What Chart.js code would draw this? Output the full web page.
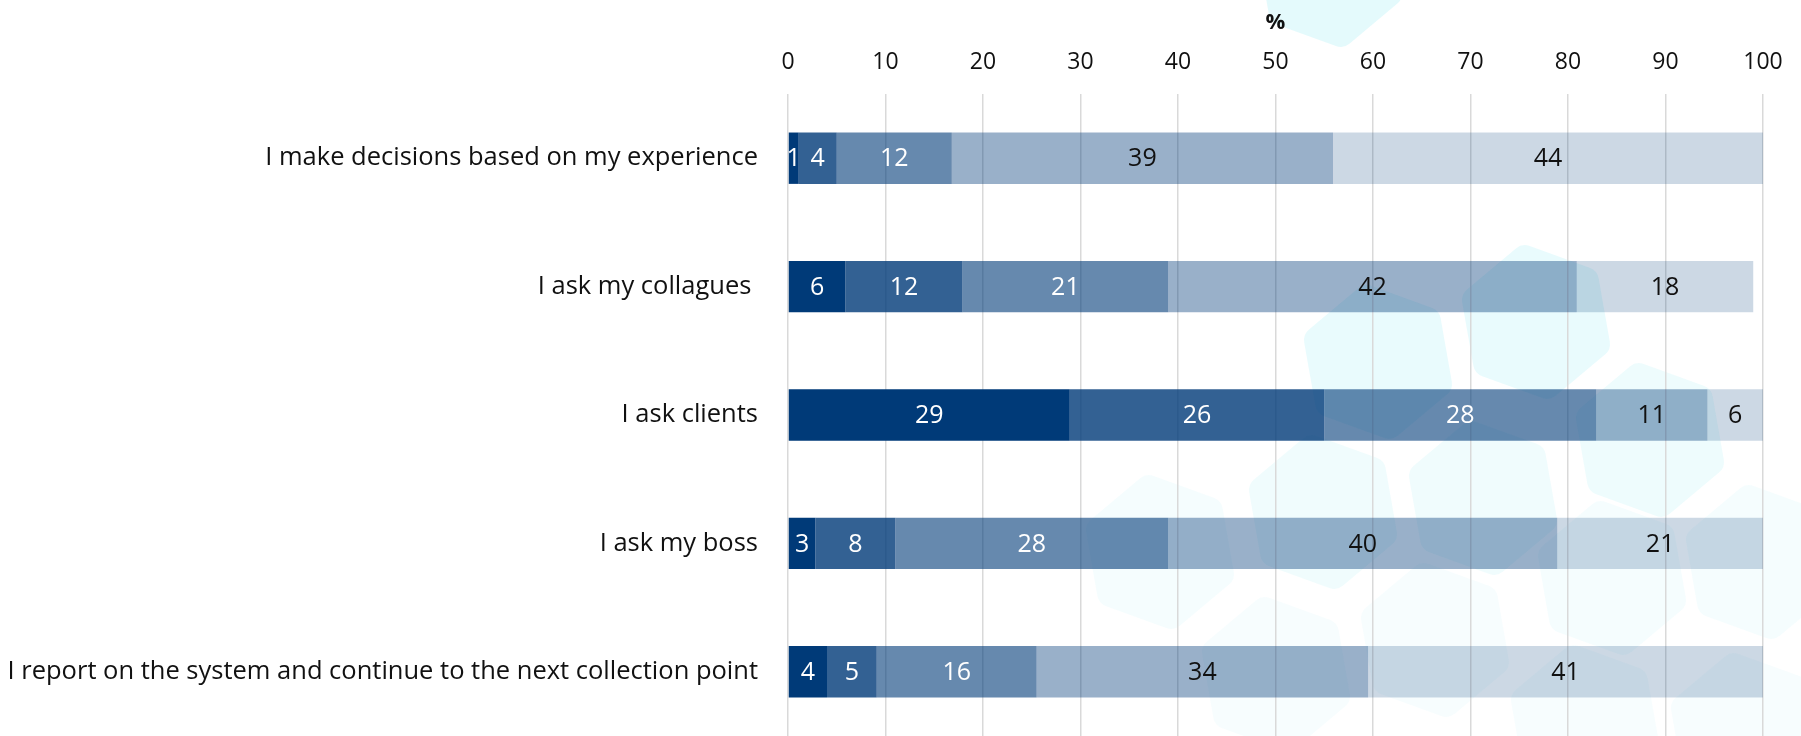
<!DOCTYPE html>
<html>
<head>
<meta charset="utf-8">
<script src="https://cdn.jsdelivr.net/npm/chart.js@4/dist/chart.umd.min.js"></script>
<style>
  html, body { margin: 0; padding: 0; background: #fff; overflow: hidden; }
  #wrap { width: 1801px; height: 736px; position: relative; }
</style>
</head>
<body>
<div id="wrap"><canvas id="answers-chart"></canvas></div>
<script>
// categories (top to bottom)
const categories = [
  'I make decisions based on my experience',
  'I ask my collagues ',
  'I ask clients',
  'I ask my boss',
  'I report on the system and continue to the next collection point'
];

// five answer groups, darkest first (shares in %)
const group1 = [1.1, 5.9, 28.9, 2.8, 4.0];
const group2 = [3.9, 12.0, 26.1, 8.2, 5.1];
const group3 = [11.8, 21.1, 27.9, 28.0, 16.4];
const group4 = [39.1, 41.9, 11.4, 39.9, 34.0];
const group5 = [44.1, 18.1, 5.7, 21.1, 40.5];

const xTicks = [0, 10, 20, 30, 40, 50, 60, 70, 80, 90, 100];

const FONT = "'Open Sans', 'Noto Sans', sans-serif";

function groupColor(i) {
  const alpha = [1, 0.8, 0.6, 0.4, 0.2];
  return 'rgba(0, 58, 120, ' + alpha[i] + ')';
}

// pale hexagons painted behind the plot (decoration only)
const hexBackground = {
  id: 'hexBackground',
  beforeDraw(chart) {
    const ctx = chart.ctx;
    const hexes = [
      [1330, -28, 78, 'rgba(225, 250, 252, 0.9)'],
      [1378, 362, 80, 'rgba(228, 250, 252, 0.8)'],
      [1536, 322, 80, 'rgba(228, 250, 252, 0.8)'],
      [1650, 440, 80, 'rgba(232, 251, 252, 0.75)'],
      [1323, 512, 80, 'rgba(234, 251, 252, 0.7)'],
      [1483, 498, 80, 'rgba(234, 251, 252, 0.7)'],
      [1160, 552, 80, 'rgba(238, 252, 253, 0.6)'],
      [1612, 578, 80, 'rgba(238, 252, 253, 0.6)'],
      [1760, 562, 80, 'rgba(238, 252, 253, 0.6)'],
      [1276, 674, 80, 'rgba(240, 252, 253, 0.55)'],
      [1435, 640, 80, 'rgba(240, 252, 253, 0.55)'],
      [1585, 722, 80, 'rgba(240, 252, 253, 0.55)'],
      [1745, 730, 80, 'rgba(240, 252, 253, 0.55)']
    ];
    ctx.save();
    hexes.forEach(h => {
      const [cx, cy, r, col] = h;
      const pts = [];
      for (let k = 0; k < 6; k++) {
        const a = Math.PI / 180 * (60 * k + 20);
        pts.push([cx + r * Math.cos(a), cy + r * Math.sin(a)]);
      }
      ctx.beginPath();
      const rr = 14;
      for (let k = 0; k < 6; k++) {
        const p0 = pts[(k + 5) % 6], p1 = pts[k], p2 = pts[(k + 1) % 6];
        if (k === 0) {
          ctx.moveTo((p0[0] + p1[0]) / 2, (p0[1] + p1[1]) / 2);
        }
        ctx.arcTo(p1[0], p1[1], (p1[0] + p2[0]) / 2, (p1[1] + p2[1]) / 2, rr);
      }
      ctx.closePath();
      ctx.fillStyle = col;
      ctx.fill();
    });
    ctx.restore();
  }
};

// value labels in the middle of each segment
const segmentLabels = {
  id: 'segmentLabels',
  afterDatasetsDraw(chart) {
    const ctx = chart.ctx;
    ctx.save();
    ctx.font = '25px ' + FONT;
    ctx.textAlign = 'center';
    ctx.textBaseline = 'middle';
    chart.data.datasets.forEach((ds, i) => {
      const meta = chart.getDatasetMeta(i);
      ctx.fillStyle = i < 3 ? '#ffffff' : '#111111';
      meta.data.forEach((bar, j) => {
        const v = ds.data[j];
        const x = (bar.x + bar.base) / 2;
        ctx.fillText(String(Math.round(v)), x, bar.y + 1);
      });
    });
    ctx.restore();
  }
};

const groups = [group1, group2, group3, group4, group5];

new Chart(document.querySelector('#answers-chart').getContext('2d'), {
  type: 'bar',
  data: {
    labels: categories,
    datasets: groups.map((g, i) => ({
      label: 'group ' + (i + 1),
      data: g,
      backgroundColor: groupColor(i),
      borderWidth: 0,
      barPercentage: 0.4,
      categoryPercentage: 1.0
    }))
  },
  options: {
    indexAxis: 'y',
    responsive: true,
    maintainAspectRatio: false,
    animation: false,
    layout: { padding: { left: 0, right: 38, top: 0, bottom: -6 } },
    plugins: {
      legend: { display: false },
      tooltip: { enabled: false }
    },
    scales: {
      x: {
        position: 'top',
        stacked: true,
        min: 0,
        max: 100,
        afterBuildTicks: scale => { scale.ticks = xTicks.map(v => ({ value: v })); },
        afterFit: scale => { scale.height = 94; scale.paddingLeft = 0; scale.paddingRight = 0; },
        ticks: {
          color: '#111',
          font: { family: FONT, size: 23 },
          padding: 18
        },
        title: {
          display: true,
          text: '%',
          color: '#111',
          font: { family: FONT, size: 22, weight: 'bold' },
          padding: { top: 10, bottom: 0 }
        },
        grid: { color: '#d9d9d9', lineWidth: 1.5, drawTicks: false },
        border: { display: false }
      },
      y: {
        stacked: true,
        afterFit: scale => { scale.width = 788; scale.paddingTop = 0; scale.paddingBottom = 0; },
        ticks: {
          color: '#111',
          font: { family: FONT, size: 25.5 },
          padding: 22
        },
        grid: { display: false },
        border: { display: false }
      }
    }
  },
  plugins: [hexBackground, segmentLabels]
});
</script>
</body>
</html>
